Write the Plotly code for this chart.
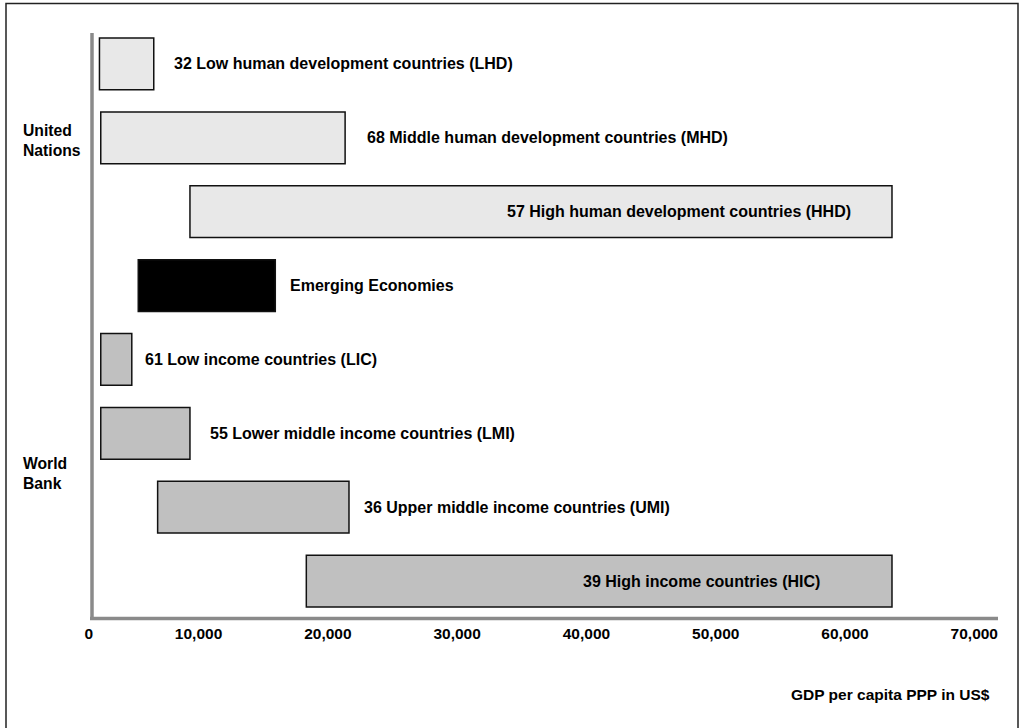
import plotly.graph_objects as go

# ---- data ----
categories = ["LHD", "MHD", "HHD", "EE", "LIC", "LMI", "UMI", "HIC"]
labels = [
    "32 Low human development countries (LHD)",
    "68 Middle human development countries (MHD)",
    "57 High human development countries (HHD)",
    "Emerging Economies",
    "61 Low income countries (LIC)",
    "55 Lower middle income countries (LMI)",
    "36 Upper middle income countries (UMI)",
    "39 High income countries (HIC)",
]
range_start = [500, 600, 7500, 3500, 600, 600, 5000, 16500]
range_end = [4700, 19500, 61800, 14100, 3000, 7500, 19800, 61800]
groups = ["UN", "UN", "UN", "EE", "WB", "WB", "WB", "WB"]
x_ticks = [0, 10000, 20000, 30000, 40000, 50000, 60000, 70000]
x_title = "GDP per capita PPP in US$"
group_titles = {"UN": "United<br>Nations", "WB": "World<br>Bank"}

# ---- styles ----
fill = {"UN": "#E8E8E8", "WB": "#C0C0C0", "EE": "#000000"}
label_inside = [False, False, True, False, False, False, False, True]
label_shift = [18, 20, -39, 13, 11, 18, 13, -70]
FONT = "Liberation Sans, Arial, sans-serif"

W, H = 1021, 728
ML, MR, MT, MB = 93, 23, 27, 110

fig = go.Figure()
fig.add_trace(go.Bar(
    y=categories,
    x=[e - s for s, e in zip(range_start, range_end)],
    base=range_start,
    orientation="h",
    width=0.70,
    marker=dict(color=[fill[g] for g in groups],
                line=dict(color="#111111", width=1.5)),
    hoverinfo="skip",
))

annotations = []
for cat, lab, e, inside, sh in zip(categories, labels, range_end, label_inside, label_shift):
    annotations.append(dict(
        x=e, y=cat, xref="x", yref="y", text="<b>" + lab + "</b>",
        showarrow=False, xanchor="right" if inside else "left", xshift=sh,
        font=dict(family=FONT, size=16, color="#000000"),
    ))

plot_w = W - ML - MR
plot_h = H - MT - MB
def px_x(p):
    return (p - ML) / plot_w
def px_y(p):
    return (H - MB - p) / plot_h

annotations.append(dict(
    x=px_x(21), y=1.04, xref="paper", yref="y", text="<b>" + group_titles["UN"] + "</b>",
    showarrow=False, xanchor="left", align="left",
    font=dict(family=FONT, size=15.7, color="#000000"),
))
annotations.append(dict(
    x=px_x(21), y=5.54, xref="paper", yref="y", text="<b>" + group_titles["WB"] + "</b>",
    showarrow=False, xanchor="left", align="left",
    font=dict(family=FONT, size=15.7, color="#000000"),
))
annotations.append(dict(
    x=px_x(992), y=px_y(694), xref="paper", yref="paper", text="<b>" + x_title + "</b>",
    showarrow=False, xanchor="right", yanchor="middle",
    font=dict(family=FONT, size=15.5, color="#000000"),
))

shapes = [
    # outer frame
    dict(type="rect", xref="paper", yref="paper",
         x0=px_x(6), x1=px_x(1018), y0=px_y(760), y1=px_y(3.5),
         line=dict(color="#222222", width=1.5), fillcolor="rgba(0,0,0,0)", layer="below"),
    # axes lines
    dict(type="line", xref="paper", yref="paper",
         x0=px_x(92), x1=px_x(92), y0=px_y(619), y1=px_y(33),
         line=dict(color="#8A8A8A", width=3.5)),
    dict(type="line", xref="paper", yref="paper",
         x0=px_x(90), x1=px_x(998), y0=px_y(618.5), y1=px_y(618.5),
         line=dict(color="#8A8A8A", width=3.5)),
]

fig.update_layout(
    width=W, height=H,
    margin=dict(l=ML, r=MR, t=MT, b=MB, pad=0),
    paper_bgcolor="white", plot_bgcolor="white",
    showlegend=False,
    annotations=annotations,
    shapes=shapes,
    xaxis=dict(
        range=[0, 70000], tickvals=x_ticks, tickformat=",",
        showgrid=False, zeroline=False, showline=False, ticks="",
        ticklabelposition="outside left", ticklabelstandoff=4,
        tickfont=dict(family=FONT, size=15.5, color="#000000", weight="bold"),
        fixedrange=True,
    ),
    yaxis=dict(
        categoryorder="array", categoryarray=categories, autorange="reversed",
        showticklabels=False, showgrid=False, zeroline=False, showline=False, ticks="",
        fixedrange=True,
    ),
)

fig.write_html("out.html", config={"displayModeBar": False},
               post_script="document.body.style.margin='0';document.body.style.overflow='hidden';")
